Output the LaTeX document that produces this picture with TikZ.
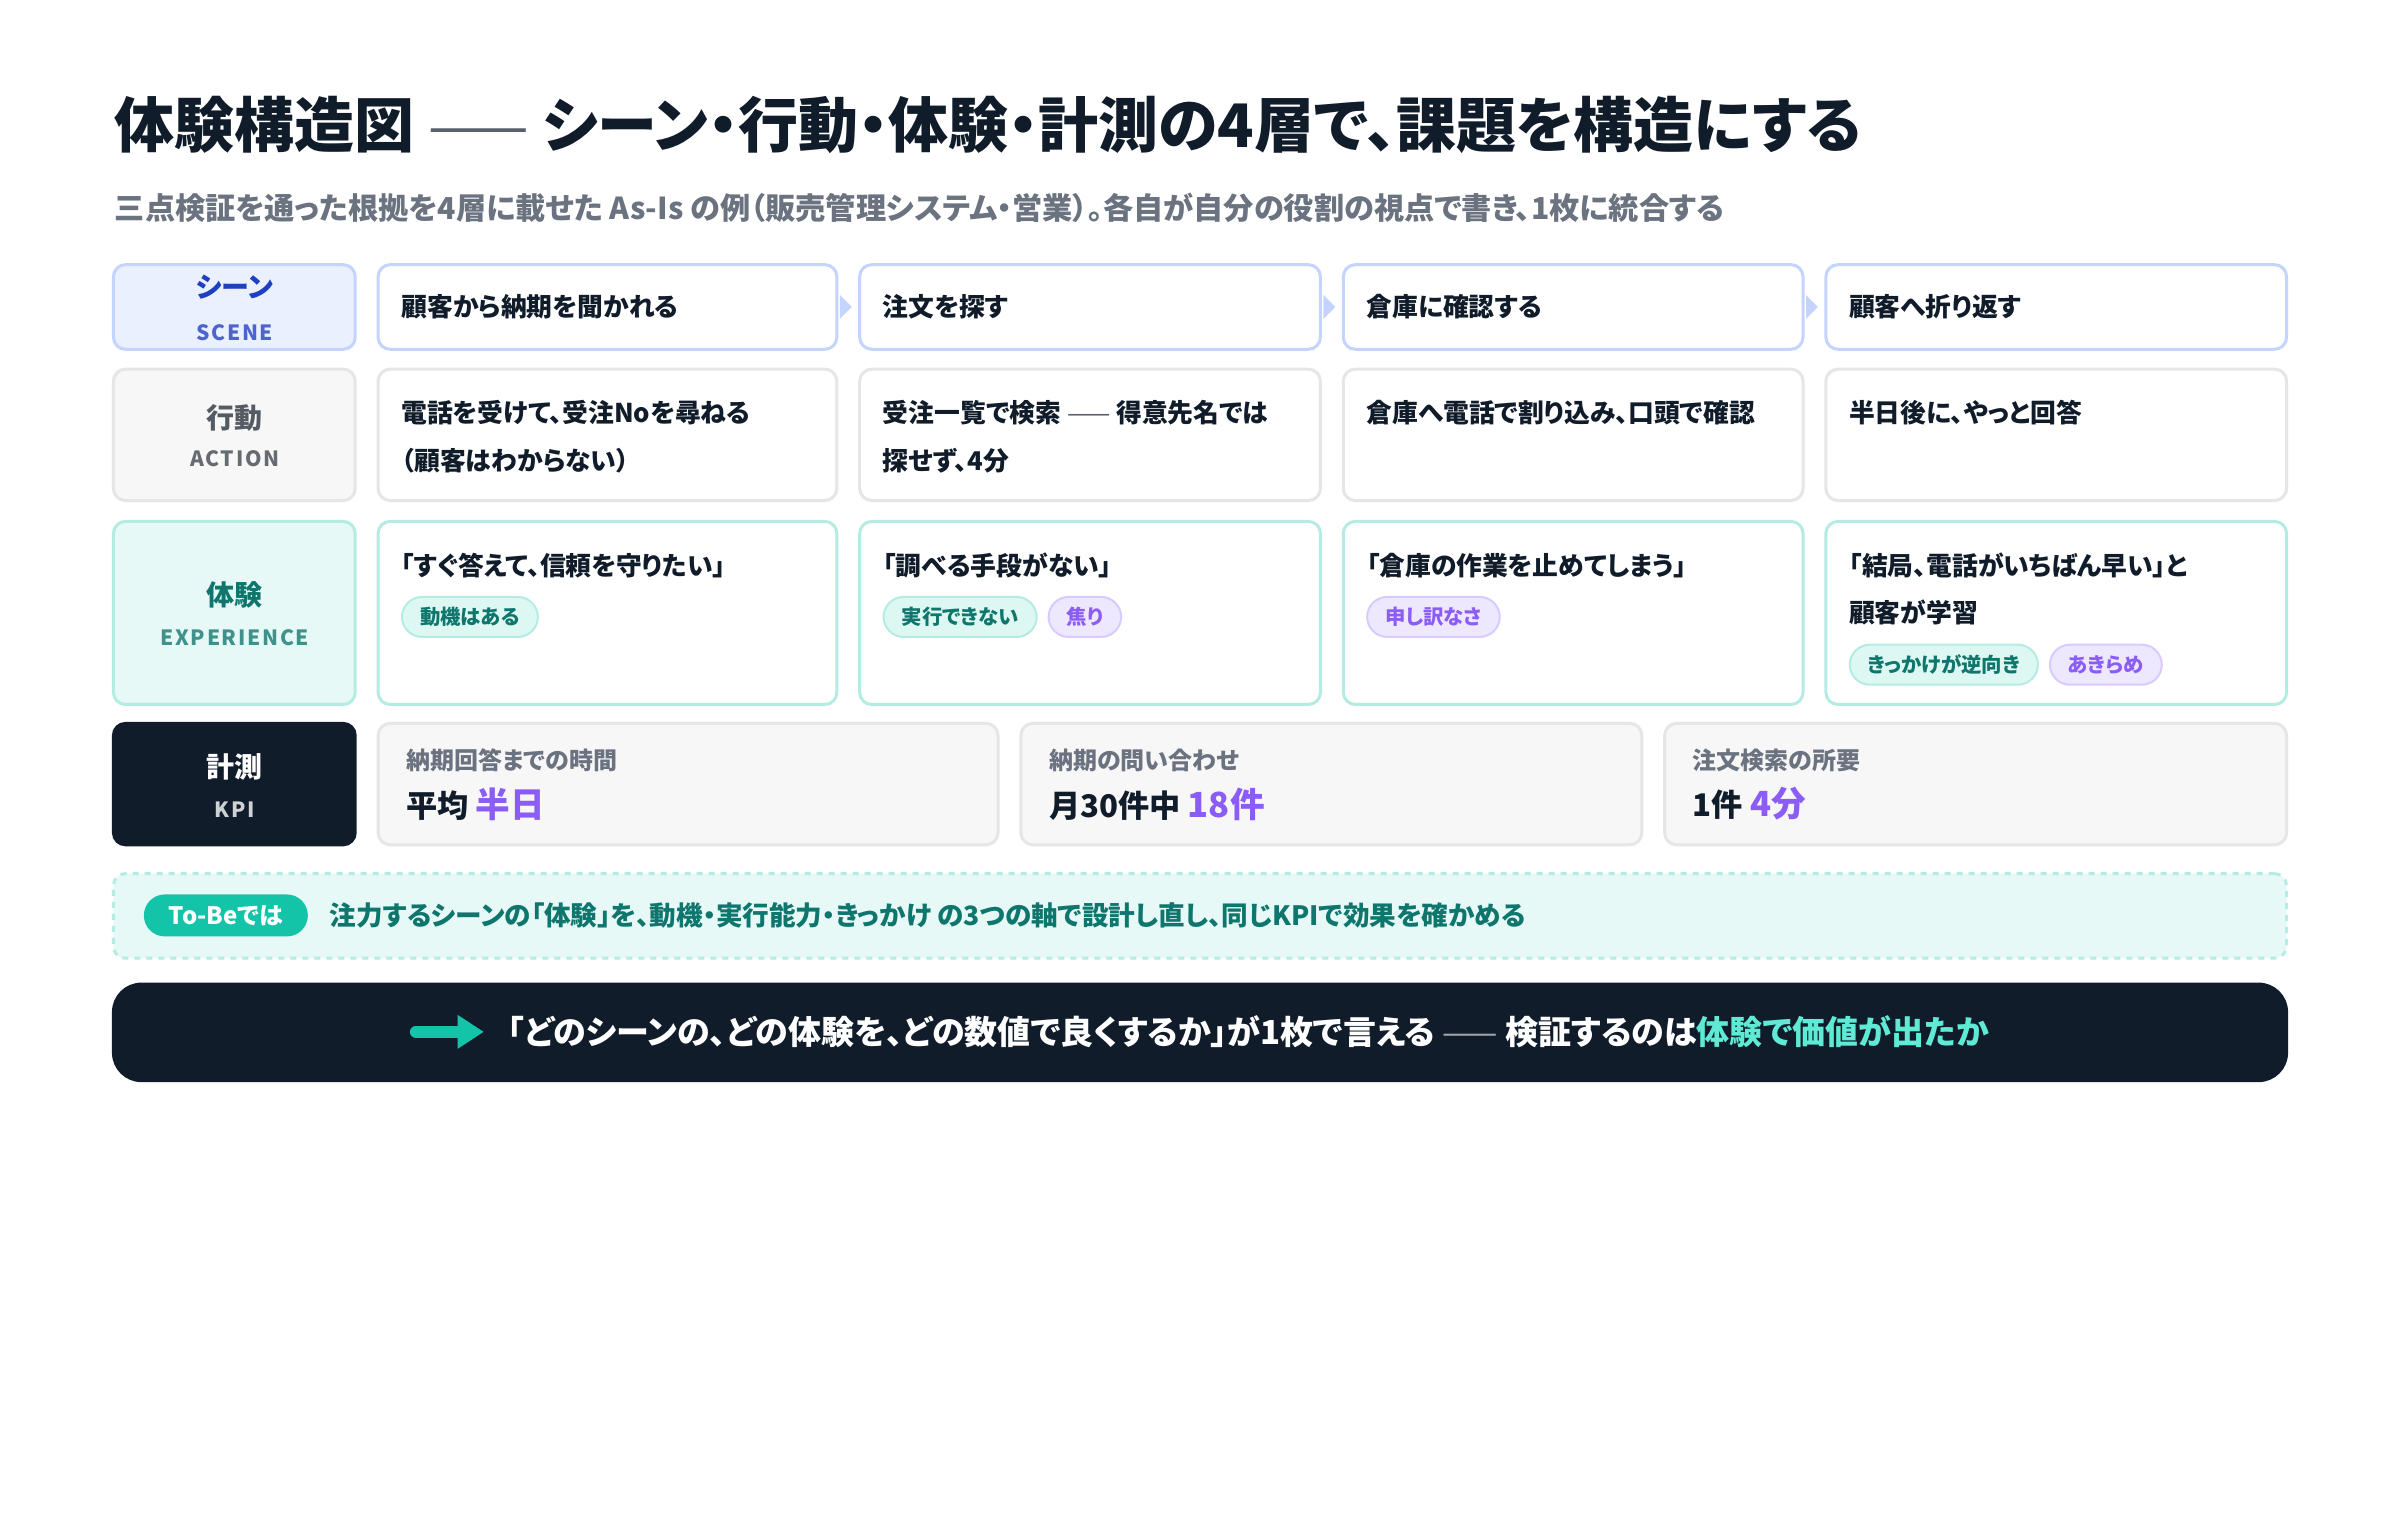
\documentclass[tikz,border=0pt]{standalone}
\usepackage{fontspec}
\setmainfont{Noto Sans CJK JP}[RawFeature=+palt]
\usetikzlibrary{fit,positioning}
\definecolor{navy}{HTML}{111C2B}
\definecolor{scenefill}{HTML}{EBF0FF}
\definecolor{sceneline}{HTML}{C5D3FF}
\definecolor{sceneblue}{HTML}{1E3FBF}
\definecolor{actfill}{HTML}{F7F7F7}
\definecolor{actline}{HTML}{E6E6E6}
\definecolor{actgray}{HTML}{555B63}
\definecolor{expfill}{HTML}{E6F9F6}
\definecolor{expline}{HTML}{B4ECE4}
\definecolor{expteal}{HTML}{0F766E}
\definecolor{pilltealfill}{HTML}{DDF8F2}
\definecolor{purple}{HTML}{8B5CF6}
\definecolor{pillpurpfill}{HTML}{EEE8FF}
\definecolor{pillpurpline}{HTML}{D8CBFF}
\definecolor{brightteal}{HTML}{5EEAD4}
\definecolor{mintteal}{HTML}{14C4A8}
\definecolor{subgray}{HTML}{6B7280}
\begin{document}
\begin{tikzpicture}[x=0.4975pt, y=-0.4975pt, font=\bfseries]
    \tikzstyle{box}=[rounded corners=6pt, line width=1.5pt, inner sep=0pt]
    \tikzstyle{scene cell}=[box, draw=sceneline, fill=white]
    \tikzstyle{action cell}=[box, draw=actline, fill=white]
    \tikzstyle{exp cell}=[box, draw=expline, fill=white]
    \tikzstyle{kpi cell}=[box, draw=actline, fill=actfill]
    \tikzstyle{body}=[anchor=west, inner sep=0pt, text=navy, font=\bfseries\fontsize{12.9}{15}\selectfont]
    \tikzstyle{tag}=[rounded corners=10pt, line width=1pt, inner xsep=9pt, minimum height=20pt, anchor=west, font=\bfseries\fontsize{10.2}{12}\selectfont]
    \tikzstyle{teal tag}=[tag, draw=expline, fill=pilltealfill, text=expteal]
    \tikzstyle{purple tag}=[tag, draw=pillpurpline, fill=pillpurpfill, text=purple]
    \tikzstyle{head}=[inner sep=0pt, font=\bfseries\fontsize{14}{16}\selectfont]
    \tikzstyle{sub}=[inner sep=0pt, font=\bfseries\fontsize{10.5}{12}\selectfont\addfontfeature{LetterSpace=8}]

    \useasboundingbox[fill=white] (0,0) rectangle (2412,1528);

    % Title and subtitle
    \node[anchor=west, inner sep=0pt, text=navy, font=\bfseries\fontsize{30}{34}\selectfont] (title) at (115,126)
        {体験構造図 {\mdseries\color{navy!70}——} シーン・行動・体験・計測の4層で、課題を構造にする};
    \node[anchor=west, inner sep=0pt, text=subgray, font=\bfseries\fontsize{15.1}{18}\selectfont] (subtitle) at (115,209)
        {三点検証を通った根拠を4層に載せた As-Is の例（販売管理システム・営業）。各自が自分の役割の視点で書き、1枚に統合する};

    % Draw the row labels
    \node[box, draw=sceneline, fill=scenefill, fit={(114,266) (357,351)}] (L-scene) {};
    \node[head, text=sceneblue] at (236,289) {シーン};
    \node[sub, text=sceneblue!80] at (236,334) {SCENE};
    \node[box, draw=actline, fill=actfill, fit={(114,371) (357,503)}] (L-action) {};
    \node[head, text=actgray] at (236,420) {行動};
    \node[sub, text=actgray!90] at (236,461) {ACTION};
    \node[box, draw=expline, fill=expfill, fit={(114,524) (357,708)}] (L-exp) {};
    \node[head, text=expteal] at (236,598) {体験};
    \node[sub, text=expteal!80] at (236,641) {EXPERIENCE};
    \node[box, draw=navy, fill=navy, fit={(114,727) (357,849)}] (L-kpi) {};
    \node[head, text=white] at (236,771) {計測};
    \node[sub, text=white!80!navy] at (236,814) {KPI};

    % Draw the scene, action and experience cells in four columns
    \foreach \name / \xa / \xb in {1/380/841, 2/864/1327, 3/1350/1812, 4/1835/2298} {
        \node[scene cell, fit={(\xa,266) (\xb,351)}] (S-\name) {};
        \node[action cell, fit={(\xa,371) (\xb,503)}] (A-\name) {};
        \node[exp cell, fit={(\xa,524) (\xb,708)}] (E-\name) {};
    }
    % small arrow heads between scenes
    \foreach \source in {1,2,3}
        \fill[sceneline] ([xshift=0.75pt]S-\source.east) ++(0,-12) -- ++(12,12) -- ++(-12,12) -- cycle;

    \node[body] at (403,308) {顧客から納期を聞かれる};
    \node[body] at (887,308) {注文を探す};
    \node[body] at (1373,308) {倉庫に確認する};
    \node[body] at (1858,308) {顧客へ折り返す};

    \node[body] at (403,415) {電話を受けて、受注Noを尋ねる};
    \node[body] at (403,463) {（顧客はわからない）};
    \node[body] at (887,415) {受注一覧で検索 {\mdseries\color{navy!70}——} 得意先名では};
    \node[body] at (887,463) {探せず、4分};
    \node[body] at (1373,415) {倉庫へ電話で割り込み、口頭で確認};
    \node[body] at (1858,415) {半日後に、やっと回答};

    \node[body] (x1) at (403,568) {「すぐ答えて、信頼を守りたい」};
    \node[teal tag] (t1) at (403,620) {動機はある};
    \node[body] (x2) at (887,568) {「調べる手段がない」};
    \node[teal tag] (t2) at (887,620) {実行できない};
    \node[purple tag, right=5pt of t2] (t3) {焦り};
    \node[body] (x3) at (1373,568) {「倉庫の作業を止めてしまう」};
    \node[purple tag] (t4) at (1373,620) {申し訳なさ};
    \node[body] (x4) at (1858,568) {「結局、電話がいちばん早い」と};
    \node[body] (x5) at (1858,615) {顧客が学習};
    \node[teal tag] (t5) at (1858,668) {きっかけが逆向き};
    \node[purple tag, right=5pt of t5] (t6) {あきらめ};

    % Draw the KPI cells
    \foreach \name / \xa / \xb / \lab / \num / \val in {
        1/380/1003/納期回答までの時間/平均/半日,
        2/1026/1650/納期の問い合わせ/月30件中/18件,
        3/1673/2298/注文検索の所要/1件/4分} {
        \node[kpi cell, fit={(\xa,727) (\xb,849)}] (K-\name) {};
        \node[anchor=west, inner sep=0pt, text=subgray, font=\bfseries\fontsize{12}{14}\selectfont]
            (K-\name-lab) at (\xa+28,764) {\lab};
        \node[anchor=west, inner sep=0pt, text=navy, font=\bfseries\fontsize{15.6}{18}\selectfont]
            (K-\name-val) at (\xa+28,808) {\num\ \textcolor{purple}{\fontsize{17.3}{19}\selectfont\val}};
    }

    % To-Be note
    \node[box, dashed, draw=expline, fill=expfill, fit={(114,878) (2298,963)}] (tobe) {};
    \node[rounded corners=10.5pt, fill=mintteal, text=white, minimum width=82pt, minimum height=21pt,
        inner sep=0pt, font=\bfseries\fontsize{12}{14}\selectfont] (tobe-pill) at (227,920) {To-Beでは};
    \node[anchor=west, inner sep=0pt, text=expteal, font=\bfseries\fontsize{13.3}{15}\selectfont] (tobe-text) at (331,920)
        {注力するシーンの「体験」を、動機・実行能力・きっかけ の3つの軸で設計し直し、同じKPIで効果を確かめる};

    % Bottom bar
    \node[box, rounded corners=14pt, draw=navy, fill=navy, fit={(114,989) (2298,1086)}] (bar) {};
    \coordinate (arr-a) at (418,1037);
    \coordinate (arr-b) at (486,1037);
    \draw[line width=6pt, line cap=round, draw=mintteal] (arr-a) -- ([xshift=-10pt]arr-b);
    \fill[mintteal] (arr-b) -- ++(-26,-17) -- ++(0,34) -- cycle;
    \node[anchor=west, inner sep=0pt, text=white, font=\bfseries\fontsize{16.5}{19}\selectfont] (bar-text) at (510,1037)
        {「どのシーンの、どの体験を、どの数値で良くするか」が1枚で言える {\mdseries\color{white!60!navy}——} 検証するのは\textcolor{brightteal}{体験で価値が出たか}};
\end{tikzpicture}
\end{document}
